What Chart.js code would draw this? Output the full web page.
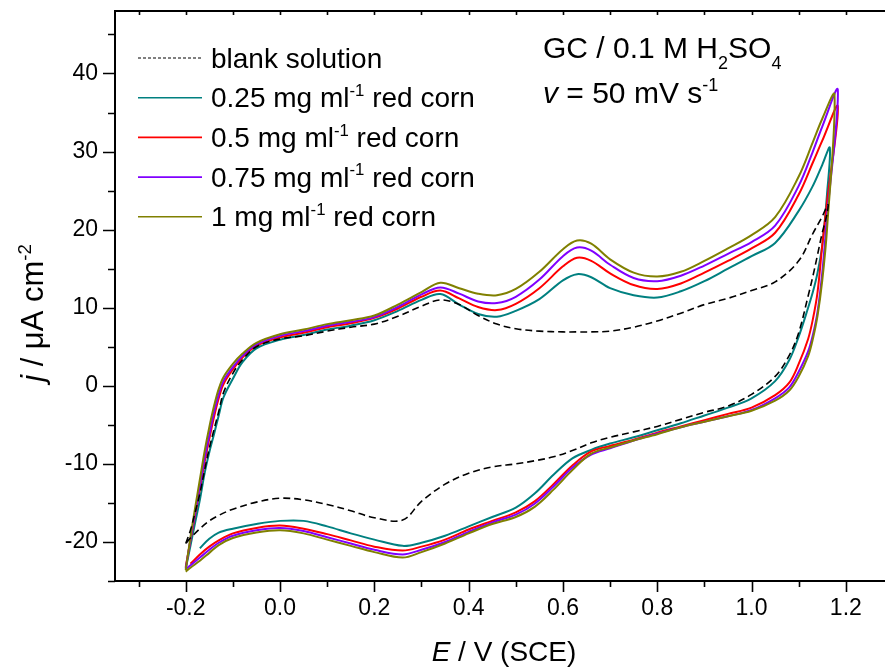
<!DOCTYPE html>
<html>
<head>
<meta charset="utf-8">
<script src="https://cdn.jsdelivr.net/npm/chart.js@4.4.1/dist/chart.umd.min.js"></script>
<style>
  html, body { margin: 0; padding: 0; overflow: hidden; background: #fff; }
  #wrap { width: 895px; height: 668px; }
</style>
</head>
<body>
<div id="wrap"><canvas id="cv"></canvas></div>
<script>
// potential grids (V vs SCE) for the anodic and cathodic sweeps
const upE = [-0.2, -0.19, -0.18, -0.17, -0.16, -0.15, -0.14, -0.13, -0.12, -0.1, -0.08, -0.05,
  0, 0.05, 0.1, 0.15, 0.2, 0.25, 0.3, 0.34, 0.38, 0.42, 0.46, 0.5, 0.55, 0.6, 0.63, 0.66,
  0.7, 0.75, 0.8, 0.85, 0.9, 0.95, 1.0, 1.05, 1.1, 1.13, 1.15];
const downE = [1.16, 1.15, 1.14, 1.13, 1.12, 1.1, 1.08, 1.05, 1.0, 0.95, 0.9, 0.85, 0.8, 0.75,
  0.7, 0.66, 0.62, 0.58, 0.54, 0.5, 0.45, 0.4, 0.35, 0.3, 0.26, 0.2, 0.15, 0.1, 0.05, 0,
  -0.05, -0.1, -0.13, -0.15, -0.17, -0.19, -0.2];

// current densities (uA cm-2), anodic sweep
const blankUp = [-20.2, -18.5, -16.2, -13.8, -10.8, -8.0, -5.6, -3.3, -0.9, 1.6, 3.3, 5.0,
  6.0, 6.4, 7.0, 7.5, 7.9, 8.9, 10.2, 11.0, 10.4, 9.0, 7.9, 7.3, 7.0, 6.9, 6.9, 6.9,
  7.0, 7.5, 8.3, 9.3, 10.4, 11.2, 12.2, 13.3, 16.0, 19.5, 21.7];
const tealUp = [-23.4, -20.5, -17.5, -14.6, -11.2, -8.5, -6.2, -3.8, -1.5, 0.9, 3.0, 4.8,
  5.9, 6.5, 7.2, 7.7, 8.4, 9.6, 11.0, 11.75, 10.4, 9.2, 8.85, 9.6, 11.1, 13.5, 14.3, 13.9,
  12.5, 11.6, 11.3, 12.1, 13.4, 15.0, 16.6, 18.3, 22.4, 25.6, 28.3];
const redUp = [-23.2, -19.8, -16.5, -13.2, -9.8, -6.8, -4.0, -1.6, 0.2, 2.1, 3.6, 5.1,
  6.2, 6.8, 7.5, 8.0, 8.7, 9.9, 11.4, 12.2, 11.2, 10.1, 9.7, 10.5, 12.5, 15.3, 16.4, 16.0,
  14.4, 12.9, 12.4, 13.1, 14.5, 16.0, 17.6, 19.6, 24.5, 28.6, 31.4];
const purpleUp = [-23.4, -19.7, -16.2, -12.8, -9.3, -6.3, -3.4, -1.1, 0.6, 2.4, 3.8, 5.3,
  6.4, 7.0, 7.7, 8.2, 8.8, 10.1, 11.7, 12.6, 11.8, 10.8, 10.6, 11.4, 13.6, 16.6, 17.7, 17.3,
  15.5, 13.8, 13.4, 14.1, 15.4, 16.9, 18.4, 20.5, 25.6, 30.0, 33.2];
const oliveUp = [-23.6, -19.4, -15.6, -12.0, -8.4, -5.3, -2.6, -0.4, 1.1, 2.8, 4.1, 5.5,
  6.6, 7.2, 7.9, 8.4, 9.0, 10.4, 12.0, 13.2, 12.5, 11.8, 11.6, 12.4, 14.6, 17.5, 18.6, 18.2,
  16.2, 14.5, 14.0, 14.6, 16.0, 17.6, 19.3, 21.6, 26.8, 31.2, 34.2];

// switching points of each sweep (blank, 0.25, 0.5, 0.75, 1 mg/ml)
const turnE = [1.162, 1.166, 1.183, 1.183, 1.176];
const turnJ = [23.2, 30.5, 35.8, 37.9, 37.3];

// current densities, cathodic sweep
const blankDown = [22.0, 19.6, 16.8, 14.0, 11.5, 6.8, 3.9, 1.2, -1.1, -2.6, -3.4, -4.3, -5.2,
  -5.9, -6.6, -7.3, -8.3, -9.1, -9.6, -10.0, -10.4, -11.2, -12.6, -14.8, -17.2, -16.9, -16.0,
  -15.2, -14.6, -14.4, -14.9, -15.8, -16.6, -17.3, -18.3, -19.5, -20.2];
const tealDown = [24.5, 18.0, 14.5, 12.0, 10.0, 6.3, 3.3, 0.6, -1.6, -2.8, -3.8, -4.8, -5.7,
  -6.6, -7.4, -8.2, -9.3, -11.4, -13.8, -15.6, -16.8, -18.0, -19.2, -20.1, -20.5, -19.7, -18.9,
  -18.0, -17.3, -17.3, -17.7, -18.3, -18.8, -19.6, -20.8, null, null];
const redDown = [23.5, 18.0, 12.0, 8.5, 6.0, 2.8, 0.4, -1.2, -2.8, -3.6, -4.4, -5.2, -6.0,
  -6.9, -7.7, -8.4, -10.2, -12.6, -14.8, -16.2, -17.3, -18.4, -19.7, -20.6, -21.1, -20.6, -19.8,
  -19.0, -18.3, -17.9, -18.2, -18.9, -19.8, -20.6, -21.6, -22.8, null];
const purpleDown = [21.6, 14.5, 9.5, 6.5, 4.4, 1.8, -0.2, -1.6, -3.1, -3.9, -4.6, -5.3, -6.1,
  -7.0, -8.0, -8.8, -10.5, -12.9, -15.1, -16.5, -17.5, -18.7, -20.0, -21.0, -21.6, -21.0, -20.2,
  -19.4, -18.6, -18.2, -18.5, -19.2, -20.1, -21.0, -22.0, -23.0, -23.5];
const oliveDown = [20.0, 13.5, 9.0, 6.0, 3.8, 1.2, -0.6, -1.9, -3.2, -3.9, -4.6, -5.3, -6.2,
  -7.0, -7.9, -8.7, -10.8, -13.3, -15.5, -16.8, -17.7, -18.9, -20.2, -21.3, -22.0, -21.3, -20.5,
  -19.7, -18.9, -18.5, -18.8, -19.5, -20.4, -21.4, -22.4, -23.3, -23.8];

const seriesNames = ['blank solution', '0.25 mg ml^{-1} red corn', '0.5 mg ml^{-1} red corn',
  '0.75 mg ml^{-1} red corn', '1 mg ml^{-1} red corn'];
const seriesColors = ['#000000', '#008080', '#ff0000', '#8000ff', '#808000'];

const xTicks = [-0.2, 0, 0.2, 0.4, 0.6, 0.8, 1.0, 1.2];
const yTicks = [-20, -10, 0, 10, 20, 30, 40];

const FONT = '"Liberation Sans", Arial, sans-serif';

// one closed voltammogram: anodic sweep, switching point, cathodic sweep
function cycle(up, k, down) {
  const pts = upE.map((e, i) => ({ x: e, y: up[i] }));
  pts.push({ x: turnE[k], y: turnJ[k] });
  downE.forEach((e, i) => pts.push({ x: e, y: down[i] }));
  return pts;
}

// text with ^{sup}, _{sub} and *italic* pieces; returns the width
function rich(ctx, str, x, y, size, draw = true) {
  const parts = str.split(/(\^\{[^}]*\}|_\{[^}]*\}|\*[^*]*\*)/).filter(Boolean);
  let w = 0;
  parts.forEach(p => {
    let t = p, fs = size, dy = 0, st = '';
    if (p[0] === '^') { t = p.slice(2, -1); fs = size * 0.6; dy = -size * 0.4; }
    else if (p[0] === '_') { t = p.slice(2, -1); fs = size * 0.6; dy = size * 0.35; }
    else if (p[0] === '*') { t = p.slice(1, -1); st = 'italic '; }
    ctx.font = `${st}${fs}px ${FONT}`;
    if (draw) ctx.fillText(t, x + w, y + dy);
    w += ctx.measureText(t).width;
  });
  return w;
}

const decor = {
  id: 'decor',
  afterDatasetsDraw(chart) {
    const { ctx, chartArea: a, scales: { x, y } } = chart;
    ctx.save();
    ctx.strokeStyle = '#000';
    ctx.fillStyle = '#000';

    // frame
    ctx.lineWidth = 2;
    ctx.strokeRect(a.left, a.top, a.right - a.left, a.bottom - a.top);

    // tick marks: majors at the labels, minors halfway
    ctx.lineWidth = 1.6;
    ctx.beginPath();
    for (let v = -0.3; v <= 1.3001; v += 0.1) {
      const px = Math.round(x.getPixelForValue(v)) + 0.5;
      const major = xTicks.some(t => Math.abs(t - v) < 1e-6);
      ctx.moveTo(px, a.bottom);
      ctx.lineTo(px, a.bottom + (major ? 11 : 6));
      ctx.moveTo(px, a.top);
      ctx.lineTo(px, a.top + 4);
    }
    for (let v = -25; v <= 45; v += 5) {
      const py = Math.round(y.getPixelForValue(v)) + 0.5;
      const major = yTicks.includes(v);
      ctx.moveTo(a.left, py);
      ctx.lineTo(a.left - (major ? 12 : 7), py);
    }
    ctx.stroke();

    // legend
    chart.data.datasets.forEach((ds, i) => {
      const ry = 58 + i * 39.7;
      ctx.beginPath();
      ctx.lineWidth = ds.borderDash ? 1 : 1.6;
      ctx.setLineDash(ds.borderDash ? [3, 2] : []);
      ctx.strokeStyle = ds.borderColor;
      ctx.moveTo(138, ry);
      ctx.lineTo(202, ry);
      ctx.stroke();
      ctx.setLineDash([]);
      ctx.textBaseline = 'alphabetic';
      rich(ctx, ds.label, 211, ry + 9.5, 28);
    });

    // cell / electrolyte and scan rate
    rich(ctx, 'GC / 0.1 M H_{2}SO_{4}', 543, 58, 30);
    rich(ctx, '*v* = 50 mV s^{-1}', 543, 103, 30);

    // axis titles
    const xt = '*E* / V (SCE)';
    const xw = rich(ctx, xt, 0, 0, 28, false);
    rich(ctx, xt, (a.left + a.right) / 2 - xw / 2, 661, 28);

    const yt = '*j* / \u03bcA cm^{-2}';
    const yw = rich(ctx, yt, 0, 0, 31, false);
    ctx.translate(43, 313);
    ctx.rotate(-Math.PI / 2);
    rich(ctx, yt, -yw / 2, 0, 31);
    ctx.restore();
  }
};

const ups = [blankUp, tealUp, redUp, purpleUp, oliveUp];
const downs = [blankDown, tealDown, redDown, purpleDown, oliveDown];
const drawOrder = [0, 4, 3, 2, 1];

new Chart(document.getElementById('cv'), {
  type: 'line',
  data: {
    datasets: seriesNames.map((name, k) => ({
      label: name,
      data: cycle(ups[k], k, downs[k]),
      borderColor: seriesColors[k],
      borderWidth: k === 0 ? 1.6 : 2,
      borderDash: k === 0 ? [7, 4] : undefined,
      pointRadius: 0,
      tension: 0.35,
      fill: false,
      order: drawOrder[k]
    }))
  },
  options: {
    responsive: true,
    maintainAspectRatio: false,
    animation: false,
    events: [],
    layout: { padding: { top: 11, right: 2, left: 0, bottom: 0 } },
    plugins: { legend: { display: false }, tooltip: { enabled: false } },
    scales: {
      x: {
        type: 'linear',
        min: -0.35,
        max: 1.3,
        afterBuildTicks: s => { s.ticks = xTicks.map(v => ({ value: v })); },
        afterFit: s => { s.height = 87; s.paddingLeft = 0; s.paddingRight = 0; },
        ticks: {
          callback: v => v.toFixed(1),
          font: { family: FONT, size: 23 },
          color: '#000',
          padding: 14,
          maxRotation: 0,
          autoSkip: false
        },
        grid: { display: false, drawTicks: false },
        border: { display: false }
      },
      y: {
        min: -25,
        max: 48,
        afterBuildTicks: s => { s.ticks = yTicks.map(v => ({ value: v })); },
        afterFit: s => { s.width = 115; s.paddingTop = 0; s.paddingBottom = 0; },
        ticks: {
          font: { family: FONT, size: 23 },
          color: '#000',
          padding: 17
        },
        grid: { display: false, drawTicks: false },
        border: { display: false }
      }
    }
  },
  plugins: [decor]
});
</script>
</body>
</html>
